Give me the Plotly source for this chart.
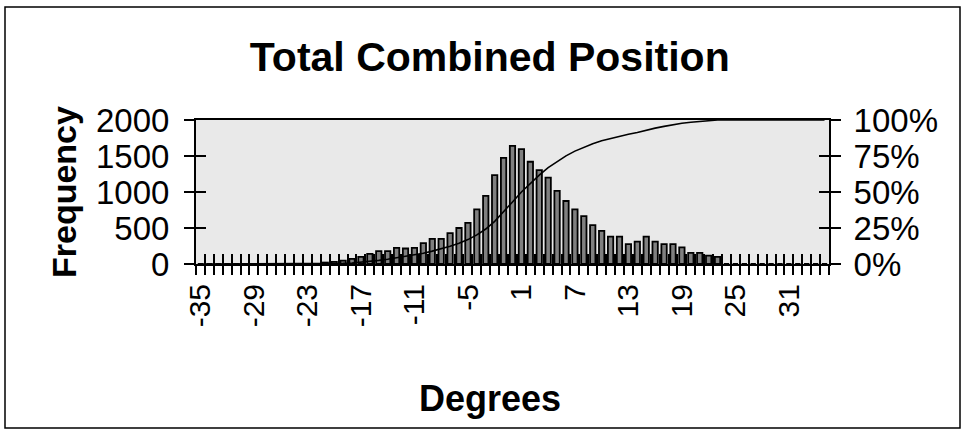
import numpy as np
import plotly.graph_objects as go

# ---------------- data ----------------
degrees = list(range(-35, 36))
frequency = [0] * 14 + [
    20, 30, 46, 70, 100, 140, 180, 180, 225, 215,
    225, 290, 350, 350, 430, 500, 570, 760, 945, 1235,
    1475, 1640, 1595, 1420, 1305, 1200, 1015, 875, 760, 665,
    540, 460, 380, 380, 275, 310, 380, 310, 275, 275,
    230, 155, 155, 115, 100,
] + [0] * 12
x_tick_values = list(range(-35, 32, 6))
x_tick_labels = [str(v) for v in x_tick_values]
freq_ticks = [0, 500, 1000, 1500, 2000]
pct_ticks = [0, 0.25, 0.5, 0.75, 1.0]
pct_labels = ["0%", "25%", "50%", "75%", "100%"]

cumulative = np.cumsum(frequency) / np.sum(frequency)

FONT = "Liberation Sans, Arial, sans-serif"
XR = [-35.5, 35.5]
YR = [0, 2000]

fig = go.Figure()
fig.add_trace(go.Bar(
    x=degrees, y=frequency, width=0.6,
    marker=dict(color="#808080", line=dict(color="black", width=1.8)),
    xaxis="x", yaxis="y", showlegend=False, name="Frequency"))
fig.add_trace(go.Scatter(
    x=degrees, y=cumulative, mode="lines",
    line=dict(color="black", width=1.6),
    xaxis="x", yaxis="y2", showlegend=False, name="Cumulative %"))
# invisible carriers for the overlay axes that draw the "cross" tick marks
fig.add_trace(go.Scatter(x=degrees, y=frequency, mode="markers",
                         marker=dict(opacity=0), hoverinfo="skip",
                         xaxis="x3", yaxis="y3", showlegend=False))
fig.add_trace(go.Scatter(x=degrees, y=cumulative, mode="markers",
                         marker=dict(opacity=0), hoverinfo="skip",
                         xaxis="x4", yaxis="y4", showlegend=False))

ytickfont = dict(family=FONT, size=33, color="black")
xtickfont = dict(family=FONT, size=30, color="black")
common_line = dict(showline=True, linecolor="black", linewidth=2,
                   showgrid=False, zeroline=False)

fig.update_layout(
    width=966, height=434,
    margin=dict(l=196, r=137, t=120, b=170),
    paper_bgcolor="white",
    plot_bgcolor="#e9e9e9",
    title=dict(text="<b>Total Combined Position</b>",
               font=dict(family=FONT, size=41, color="black"),
               x=0.507, xref="container", xanchor="center",
               y=(434 - 57) / 434, yref="container", yanchor="middle"),
    xaxis=dict(range=XR, tickmode="array", tickvals=x_tick_values,
               ticktext=x_tick_labels, tickangle=-90, ticks="",
               tickfont=xtickfont, ticklabelstandoff=6,
               mirror=True, **common_line),
    xaxis3=dict(range=XR, overlaying="x", anchor="y3", tickmode="linear",
                tick0=-35.5, dtick=1, ticks="outside", ticklen=10,
                tickwidth=2, tickcolor="black", showticklabels=False,
                showline=False, showgrid=False, zeroline=False),
    xaxis4=dict(range=XR, overlaying="x", anchor="y4", tickmode="linear",
                tick0=-35.5, dtick=1, ticks="inside", ticklen=10,
                tickwidth=2, tickcolor="black", showticklabels=False,
                showline=False, showgrid=False, zeroline=False),
    yaxis=dict(range=YR, tickmode="array", tickvals=freq_ticks,
               ticks="outside", ticklen=10, tickwidth=2, tickcolor="black",
               tickfont=ytickfont, ticklabelstandoff=8, **common_line),
    yaxis3=dict(range=YR, overlaying="y", anchor="x3", tickmode="array",
                tickvals=freq_ticks, ticks="inside", ticklen=10, tickwidth=2,
                tickcolor="black", showticklabels=False, showline=False,
                showgrid=False, zeroline=False),
    yaxis2=dict(range=[0, 1], overlaying="y", side="right", anchor="x",
                tickmode="array", tickvals=pct_ticks, ticktext=pct_labels,
                ticks="outside", ticklen=10, tickwidth=2, tickcolor="black",
                tickfont=ytickfont, ticklabelstandoff=6, **common_line),
    yaxis4=dict(range=[0, 1], overlaying="y", side="right", anchor="x4",
                tickmode="array", tickvals=pct_ticks, ticks="inside",
                ticklen=10, tickwidth=2, tickcolor="black",
                showticklabels=False, showline=False, showgrid=False,
                zeroline=False),
    annotations=[
        dict(text="<b>Frequency</b>", textangle=-90, showarrow=False,
             xref="paper", yref="paper", x=(64 - 196) / 633, y=0.5,
             xanchor="center", yanchor="middle",
             font=dict(family=FONT, size=34, color="black")),
        dict(text="<b>Degrees</b>", showarrow=False,
             xref="paper", yref="paper", x=(490 - 196) / 633,
             y=(264 - 398) / 144, xanchor="center", yanchor="middle",
             font=dict(family=FONT, size=36, color="black")),
    ],
    shapes=[
        dict(type="rect", xref="paper", yref="paper",
             x0=(5 - 196) / 633, x1=(960 - 196) / 633,
             y0=(264 - 428) / 144, y1=(264 - 7) / 144,
             line=dict(color="black", width=1.5), fillcolor="rgba(0,0,0,0)",
             layer="below"),
    ],
)

fig.write_html("out.html", config={"displayModeBar": False},
               post_script="document.body.style.margin='0px';")
